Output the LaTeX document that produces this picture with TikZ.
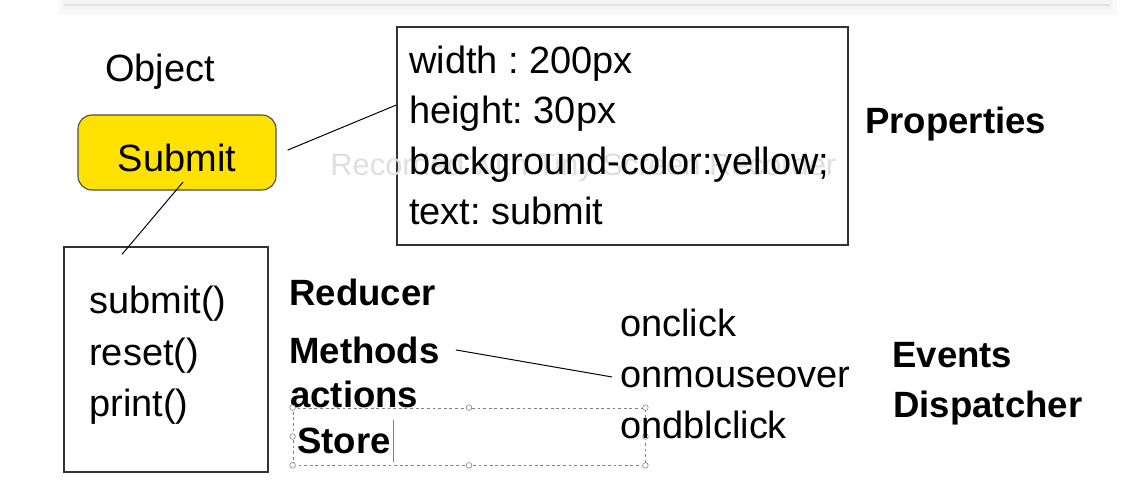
\documentclass[tikz,border=0pt]{standalone}
\usepackage{fontspec}
\setmainfont{Liberation Sans}
\usetikzlibrary{positioning}
\definecolor{btnyellow}{RGB}{255,226,0}
\frenchspacing

\begin{document}
\begin{tikzpicture}[x=0.025cm,y=-0.025cm,
    txt/.style={anchor=base west,inner sep=0pt,font=\fontsize{27}{32}\selectfont},
    lbl/.style={anchor=base west,inner sep=0pt,font=\fontsize{26}{31}\selectfont\bfseries},
    box/.style={draw=black!80,line width=0.9pt,rectangle},
    handle/.style={circle,draw=gray,fill=white,line width=0.4pt,inner sep=0pt,minimum size=4pt}]
          \useasboundingbox (0,0) rectangle (1135,486);
          % slide edge
          \fill[gray!5] (58,0) rectangle (1117,15);
          \fill[gray!9] (62,0) rectangle (1112,10);
          \draw[gray!22,line width=1pt] (64,5) -- (1110,5);
          % object
          \node[txt] (obj) at (105,82) {Object};
          \node[draw=black!70,fill=btnyellow,line width=0.8pt,rounded corners=10pt,
                minimum width=4.95cm,minimum height=1.875cm,text height=0.925cm,text depth=0pt,
                font=\fontsize{27}{32}\selectfont] (btn) at (177,152.5) {Submit};
          % properties
          \node[box,minimum width=11.275cm,minimum height=5.45cm] (props) at (622.5,136) {};
          \node[anchor=base west,inner sep=0pt,text=gray!25,font=\fontsize{22}{26}\selectfont] (mark) at (330,175) {Recorded with Tiny Screen Recorder};
          \node[txt] (w) at (409,73) {width : 200px};
          \node[txt] (h) at (409,123) {height: 30px};
          \node[txt] (bg) at (409,174) {background-color:yellow;};
          \node[txt] (t) at (409,224) {text: submit};
          \node[lbl] (prop) at (865,133) {Properties};
          % methods
          \node[box,minimum width=5.1cm,minimum height=5.625cm] (methods) at (166,359.5) {};
          \node[txt] (m1) at (89,313) {submit()};
          \node[txt] (m2) at (89,365) {reset()};
          \node[txt] (m3) at (89,416) {print()};
          \node[lbl] (red) at (289,305) {Reducer};
          \node[lbl] (meth) at (289,363) {Methods};
          \node[lbl] (act) at (290,407) {actions};
          % store
          \node[draw=gray,dash pattern=on 2pt off 2pt,line width=0.5pt,rectangle,
                minimum width=8.8cm,minimum height=1.425cm] (store) at (469,436.5) {};
          \node[lbl] (st) at (297,453) {Store};
          \coordinate (cur) at (393,462);
          \draw[gray,line width=0.6pt] (cur) -- ++(0,-42);
          \foreach \a in {north west,north,north east,east,south east,south,south west,west}
            \node[handle] at (store.\a) {};
          % events
          \node[txt] (e1) at (620,336) {onclick};
          \node[txt] (e2) at (620,387) {onmouseover};
          \node[txt] (e3) at (620,438) {ondblclick};
          \node[lbl] (ev) at (892,367) {Events};
          \node[lbl] (disp) at (893,417) {Dispatcher};
          % links
          \draw[line width=0.7pt] ([xshift=0.275cm,yshift=0.06cm]btn.east) -- ([yshift=0.775cm]props.west);
          \draw[line width=0.7pt] ([xshift=0.15cm,yshift=-0.74cm]btn.center) -- ([xshift=-1.1cm,yshift=-0.2cm]methods.north);
          \draw[line width=0.7pt] ([xshift=0.4cm]meth.east) -- ([xshift=-0.2cm]e2.west);
        \end{tikzpicture}
\end{document}
